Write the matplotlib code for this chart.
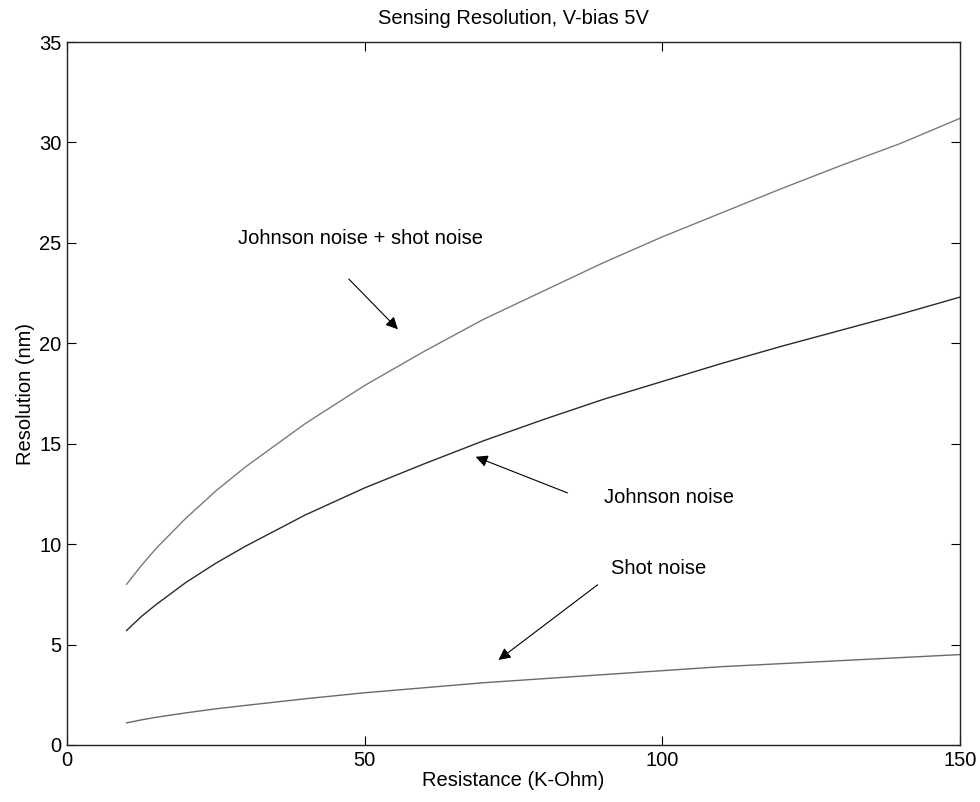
import matplotlib
matplotlib.use("Agg")
import matplotlib.pyplot as plt

plt.rcParams['font.family'] = ['Liberation Sans', 'DejaVu Sans']

# resistance in K-Ohm
resistance = [10, 12.5, 15, 20, 25, 30, 40, 50, 60, 70, 80, 90, 100, 110, 120, 130, 140, 150]

# resolution in nm
johnson_shot = [8.0, 8.94, 9.8, 11.3, 12.65, 13.85, 16.0, 17.9, 19.6, 21.2, 22.6, 24.0,
                25.3, 26.5, 27.7, 28.85, 29.95, 31.2]
johnson = [5.7, 6.4, 7.0, 8.1, 9.05, 9.9, 11.45, 12.8, 14.0, 15.15, 16.2, 17.2,
           18.1, 19.0, 19.85, 20.65, 21.45, 22.3]
shot = [1.1, 1.25, 1.38, 1.6, 1.8, 1.97, 2.3, 2.6, 2.85, 3.1, 3.3, 3.5,
        3.7, 3.9, 4.05, 4.2, 4.35, 4.5]

fig = plt.figure(figsize=(9.8, 8.02), dpi=100)
ax = fig.add_axes([0.0684, 0.0711, 0.9112, 0.8765])

ax.plot(resistance, johnson_shot, color='#7a7a7a', lw=1.0)
ax.plot(resistance, johnson, color='#2a2a2a', lw=1.0)
ax.plot(resistance, shot, color='#6a6a6a', lw=1.0)

ax.set_xlim(0, 150)
ax.set_ylim(0, 35)
ax.set_xticks([0, 50, 100, 150])
ax.set_yticks(range(0, 36, 5))
ax.tick_params(direction='in', length=6.5, width=0.8, top=True, right=True,
               labelsize=14.5, pad=4)
for s in ax.spines.values():
    s.set_linewidth(1.0)
    s.set_color('#222222')

ax.set_title("Sensing Resolution, V-bias 5V", fontsize=14.5, pad=13)
ax.set_xlabel("Resistance (K-Ohm)", fontsize=14.5, labelpad=1)
ax.set_ylabel("Resolution (nm)", fontsize=14.5, labelpad=3)

arrow = dict(arrowstyle='-|>', color='black', lw=0.8, mutation_scale=18)
ax.annotate("", xy=(55.9, 20.6), xytext=(47.0, 23.3), arrowprops=arrow)
ax.annotate("", xy=(68.2, 14.4), xytext=(84.5, 12.5), arrowprops=arrow)
ax.annotate("", xy=(72.1, 4.15), xytext=(89.5, 8.06), arrowprops=arrow)

ax.text(28.7, 25.2, "Johnson noise + shot noise", fontsize=14.5, va='center', ha='left')
ax.text(90.2, 12.3, "Johnson noise", fontsize=14.5, va='center', ha='left')
ax.text(91.4, 8.8, "Shot noise", fontsize=14.5, va='center', ha='left')

fig.savefig("out.png", dpi=100)
